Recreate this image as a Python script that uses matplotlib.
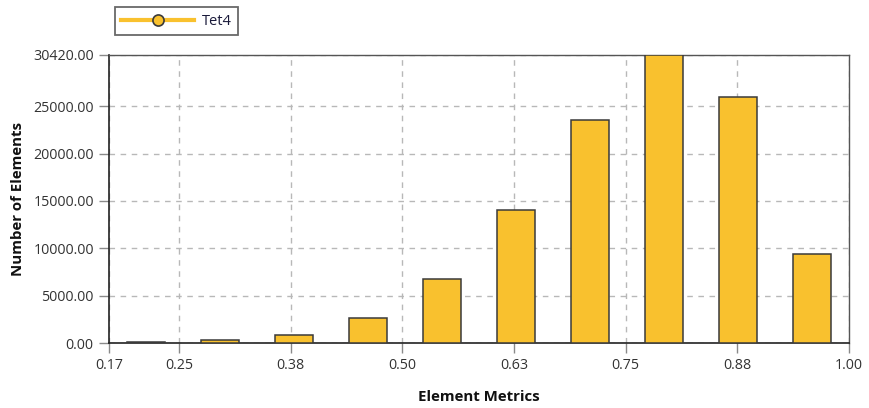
import numpy as np
import matplotlib
matplotlib.use("Agg")
import matplotlib.pyplot as plt
from matplotlib.lines import Line2D

plt.rcParams["font.family"] = ["Open Sans", "DejaVu Sans"]

# Element metric histogram (10 bins between min and max metric)
metric_min = 0.1715
metric_max = 1.0
counts = [150, 280, 840, 2680, 6750, 14100, 23600, 30420, 25980, 9400]
series_name = "Tet4"

x_ticks = [0.1715, 0.25, 0.375, 0.5, 0.625, 0.75, 0.875, 1.0]
x_tick_labels = ["0.17", "0.25", "0.38", "0.50", "0.63", "0.75", "0.88", "1.00"]
y_ticks = [0, 5000, 10000, 15000, 20000, 25000, 30420]
y_tick_labels = ["0.00", "5000.00", "10000.00", "15000.00", "20000.00", "25000.00", "30420.00"]

bar_color = "#F9C12E"
edge_color = "#3a3a3a"
text_color = "#333333"

edges = np.linspace(metric_min, metric_max, len(counts) + 1)
centers = (edges[:-1] + edges[1:]) / 2
bin_w = edges[1] - edges[0]

fig = plt.figure(figsize=(8.7, 4.08), dpi=100)
ax = fig.add_axes([0.1253, 0.1593, 0.8506, 0.7059])

ax.bar(centers, counts, width=bin_w * 0.51, color=bar_color,
       edgecolor=edge_color, linewidth=1.1, zorder=3)

ax.set_xlim(metric_min, metric_max)
ax.set_ylim(0, max(y_ticks))
ax.set_xticks(x_ticks)
ax.set_xticklabels(x_tick_labels)
ax.set_yticks(y_ticks)
ax.set_yticklabels(y_tick_labels)

ax.set_axisbelow(True)
ax.grid(True, color="#b8b8b8", linestyle=(0, (4, 4)), linewidth=1.0)

ax.tick_params(axis="both", direction="out", length=7, width=1.0,
               color="#8a8a8a", labelsize=10.3, labelcolor=text_color, pad=4)

for side in ["left", "bottom"]:
    ax.spines[side].set_color("#222222")
    ax.spines[side].set_linewidth(1.2)
for side in ["top", "right"]:
    ax.spines[side].set_color("#555555")
    ax.spines[side].set_linewidth(1.0)

ax.set_xlabel("Element Metrics", fontsize=10.8, fontweight="bold", labelpad=12,
              color="#111111")
ax.set_ylabel("Number of Elements", fontsize=10.8, fontweight="bold", labelpad=6,
              color="#111111")

handle = Line2D([], [], color=bar_color, linewidth=3, marker="o",
                markersize=8, markerfacecolor=bar_color,
                markeredgecolor=edge_color, markeredgewidth=1.2)
leg = fig.legend([handle], [series_name], loc="upper left",
                 bbox_to_anchor=(0.132, 0.982), frameon=True, fancybox=False,
                 handlelength=5.0, handletextpad=0.5, borderpad=0.45,
                 borderaxespad=0, prop={"size": 10.5})
leg.get_frame().set_edgecolor("#444444")
leg.get_frame().set_linewidth(1.3)
for t in leg.get_texts():
    t.set_color("#1a1a3a")

fig.savefig("out.png", dpi=100)
